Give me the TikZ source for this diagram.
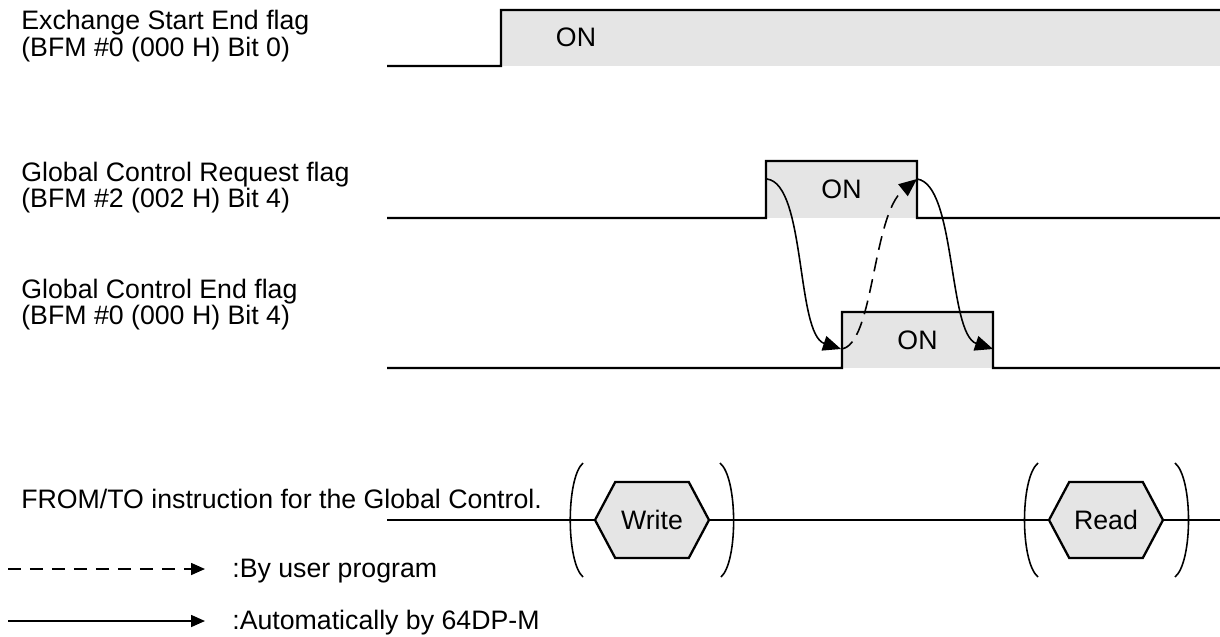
\documentclass[tikz,border=0pt]{standalone}
\usepackage{fontspec}
\setmainfont{Liberation Sans}
\usepackage{tikz}
\usetikzlibrary{arrows.meta,shapes.symbols}
\definecolor{onfill}{RGB}{229,229,229}

\begin{document}
\begin{tikzpicture}[x=0.02cm, y=-0.02cm,
    font=\fontsize{15.2pt}{14.8pt}\selectfont,
    flaglabel/.style={anchor=base west, align=left, inner sep=0pt},
    pulse/.style={rectangle, fill=onfill, inner sep=0pt, outer sep=0pt},
    wave/.style={line width=1.3pt, line join=miter},
    hexa/.style={signal, signal to=east and west, signal pointer angle=124, draw, fill=onfill, line width=1.3pt, minimum width=2.28cm, minimum height=1.52cm, inner sep=0pt},
    bracket/.style={line width=0.9pt},
    arrow/.style={line width=0.9pt,->,>={Triangle[length=3.6mm,width=3mm]}},
    userarrow/.style={arrow, dash pattern=on 0.28cm off 0.16cm},
    legendarrow/.style={line width=0.9pt,->,>={Triangle[length=2.8mm,width=2.4mm]}}]

    \useasboundingbox (0,0) rectangle (1220,636);

    \node (xlabel) [flaglabel] at (21,56) {Exchange Start End flag\\(BFM \#0 (000 H) Bit 0)};
    \node (reqlabel) [flaglabel] at (21,207) {Global Control Request flag\\(BFM \#2 (002 H) Bit 4)};
    \node (endlabel) [flaglabel] at (21,324) {Global Control End flag\\(BFM \#0 (000 H) Bit 4)};
    \node (ftlabel) [flaglabel] at (21,508) {FROM/TO instruction for the Global Control.};

    \node (xon) [pulse, minimum width=14.38cm, minimum height=1.12cm] at (860.5,38) {};
    \node (xontext) at (576,37) {ON};
    \node (reqon) [pulse, minimum width=3.02cm, minimum height=1.14cm] at (841.5,189.5) {ON};
    \node (endon) [pulse, minimum width=3.02cm, minimum height=1.12cm] at (917.5,340) {ON};

    \coordinate (xlow) at (387,66);
    \coordinate (reqlow) at (387,218);
    \coordinate (reqhigh) at (1220,218);
    \coordinate (endlow) at (387,368);
    \coordinate (endhigh) at (1220,368);

    \draw [wave] (xlow) -- (xon.south west) -- (xon.north west) -- (xon.north east);
    \draw [wave] (reqlow) -- (reqon.south west) -- (reqon.north west) -- (reqon.north east) -- (reqon.south east) -- (reqhigh);
    \draw [wave] (endlow) -- (endon.south west) -- (endon.north west) -- (endon.north east) -- (endon.south east) -- (endhigh);

    \coordinate (reqa) at (767,179);
    \coordinate (reqb) at (917,179);
    \coordinate (enda) at (841,349);
    \coordinate (endb) at (993,349);

    \draw [arrow] (reqa) .. controls (806,184) and (796,334) .. (enda);
    \draw [arrow] (reqb) .. controls (956,184) and (948,334) .. (endb);
    \draw [userarrow] (enda) .. controls (874,346) and (872,215) .. (reqb);

    \node (write) [hexa] at (652,520) {Write};
    \node (read) [hexa] at (1106,520) {Read};
    \coordinate (ftstart) at (387,520);
    \coordinate (ftend) at (1220,520);
    \draw [wave] (ftstart) -- (write.west);
    \draw [wave] (write.east) -- (read.west);
    \draw [wave] (read.east) -- (ftend);

    \draw [bracket] (583,463) .. controls (566,478) and (566,562) .. (583,577);
    \draw [bracket] (720,463) .. controls (738,478) and (738,562) .. (721,577);
    \draw [bracket] (1038,463) .. controls (1020,478) and (1020,562) .. (1038,577);
    \draw [bracket] (1175,463) .. controls (1193,478) and (1193,562) .. (1175,577);

    \coordinate (usera) at (8,569);
    \coordinate (userb) at (205,569);
    \coordinate (autoa) at (8,621);
    \coordinate (autob) at (205,621);
    \draw [legendarrow, dash pattern=on 0.26cm off 0.18cm] (usera) -- (userb);
    \draw [legendarrow] (autoa) -- (autob);
    \node (userlabel) [flaglabel] at (232,577) {:By user program};
    \node (autolabel) [flaglabel] at (232,629) {:Automatically by 64DP-M};

\end{tikzpicture}
\end{document}
